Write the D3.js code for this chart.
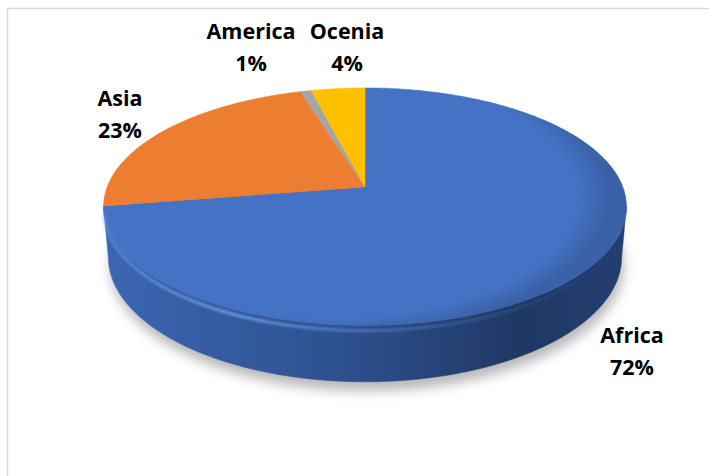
<!DOCTYPE html>
<html>
<head>
<meta charset="utf-8">
<script src="https://cdn.jsdelivr.net/npm/d3@7"></script>
<style>
  html, body { margin: 0; padding: 0; background: #ffffff; }
  svg { display: block; }
</style>
</head>
<body>
<svg id="chart" width="709" height="476"></svg>
<script>
// ---- data ----
const categories = ["Africa", "Asia", "America", "Ocenia"];
const values = [72.45, 22.85, 0.8, 3.9];
const topColors = ["#4472C4", "#ED7D31", "#A5A5A5", "#FFC000"];
const sideDark = ["#1F3864", "#843C0C", "#595959", "#7F6000"];
const sideLight = ["#3B66B3", "#C9682A", "#8C8C8C", "#D9A300"];

// ---- label layout (positions only) ----
const labelCenters = [[632, 343], [120, 106], [251, 39], [347, 39]];

// ---- geometry ----
const W = 709, H = 476;
const cx = 365, cy = 187;
const theta = 26.6 * Math.PI / 180;
const cT = Math.cos(theta), sT = Math.sin(theta);
const Dist = 5.41, focal = 1395, thick = 0.22;

function proj(phi, z) {
  const X = Math.sin(phi), Y = Math.cos(phi);
  const depth = Dist + Y * cT - z * sT;
  return [cx + focal * X / depth, cy - focal * (Y * sT + z * cT) / depth];
}
function projCenter(z) {
  const depth = Dist - z * sT;
  return [cx, cy - focal * (z * cT) / depth];
}

const svg = d3.select("#chart");
const defs = svg.append("defs");

// border of chart area
svg.append("rect")
  .attr("x", 7.5).attr("y", 8.5)
  .attr("width", W + 10).attr("height", H + 10)
  .attr("fill", "none").attr("stroke", "#d9d9d9").attr("stroke-width", 1.5);

const pie = d3.pie().sort(null).value(d => d)(values);

function arcPoints(a0, a1, z) {
  const n = Math.max(2, Math.ceil(Math.abs(a1 - a0) / 0.01));
  const pts = [];
  for (let i = 0; i <= n; i++) pts.push(proj(a0 + (a1 - a0) * i / n, z));
  return pts;
}
const line = d3.line();

// silhouette angles (perspective)
const silR = Math.acos(-cT / Dist);
const silL = 2 * Math.PI - silR;

// shadow
const blur = defs.append("filter").attr("id", "shadowBlur")
  .attr("x", "-20%").attr("y", "-20%").attr("width", "140%").attr("height", "140%");
blur.append("feGaussianBlur").attr("stdDeviation", 6);
const shadowPts = arcPoints(0, 2 * Math.PI, -thick).map(p => [p[0] + 2, p[1] + 9]);
svg.append("path")
  .attr("d", line(shadowPts) + "Z")
  .attr("fill", "#8a8a8a").attr("opacity", 0.6)
  .attr("filter", "url(#shadowBlur)");

// side gradients per slice
const leftX = proj(silL, 0)[0], rightX = proj(silR, 0)[0];
pie.forEach((d, i) => {
  const g = defs.append("linearGradient").attr("id", "side" + i)
    .attr("gradientUnits", "userSpaceOnUse")
    .attr("x1", leftX).attr("y1", 0).attr("x2", rightX).attr("y2", 0);
  g.append("stop").attr("offset", "0%").attr("stop-color", sideLight[i]);
  g.append("stop").attr("offset", "45%").attr("stop-color", d3.interpolateRgb(sideLight[i], sideDark[i])(0.45));
  g.append("stop").attr("offset", "80%").attr("stop-color", sideDark[i]);
  g.append("stop").attr("offset", "100%").attr("stop-color", d3.interpolateRgb(sideDark[i], sideLight[i])(0.15));
});

// outer walls (visible front part only)
pie.forEach((d, i) => {
  const a0 = Math.max(d.startAngle, silR), a1 = Math.min(d.endAngle, silL);
  if (a1 <= a0) return;
  const topPts = arcPoints(a0, a1, 0);
  const botPts = arcPoints(a0, a1, -thick).reverse();
  svg.append("path")
    .attr("d", line(topPts.concat(botPts)) + "Z")
    .attr("fill", "url(#side" + i + ")")
    .attr("stroke", "url(#side" + i + ")").attr("stroke-width", 0.5);
});

// top faces
pie.forEach((d, i) => {
  const pts = [projCenter(0)].concat(arcPoints(d.startAngle, d.endAngle, 0));
  svg.append("path")
    .attr("d", line(pts) + "Z")
    .attr("fill", topColors[i])
    .attr("stroke", topColors[i]).attr("stroke-width", 0.5);
});

// top face shading near right rim
const rim = defs.append("radialGradient").attr("id", "rimShade")
  .attr("gradientUnits", "userSpaceOnUse")
  .attr("cx", cx - 30).attr("cy", cy + 10).attr("r", 275)
  .attr("gradientTransform", `translate(${cx - 30},${cy + 10}) scale(1,0.5) translate(${-(cx - 30)},${-(cy + 10)})`);
rim.append("stop").attr("offset", "88%").attr("stop-color", "#000").attr("stop-opacity", 0);
rim.append("stop").attr("offset", "100%").attr("stop-color", "#000").attr("stop-opacity", 0.15);
svg.append("path")
  .attr("d", line(arcPoints(0, pie[0].endAngle, 0).concat([projCenter(0)])) + "Z")
  .attr("fill", "url(#rimShade)");

// bevel highlight along front rim
const hl = defs.append("linearGradient").attr("id", "hl")
  .attr("gradientUnits", "userSpaceOnUse")
  .attr("x1", leftX).attr("y1", 0).attr("x2", rightX).attr("y2", 0);
hl.append("stop").attr("offset", "0%").attr("stop-color", "#6E9BEA").attr("stop-opacity", 0.5);
hl.append("stop").attr("offset", "25%").attr("stop-color", "#6E9BEA").attr("stop-opacity", 0.9);
hl.append("stop").attr("offset", "60%").attr("stop-color", "#5A86D6").attr("stop-opacity", 0.4);
hl.append("stop").attr("offset", "100%").attr("stop-color", "#4472C4").attr("stop-opacity", 0);
const hlBlur = defs.append("filter").attr("id", "hlBlur")
  .attr("x", "-10%").attr("y", "-50%").attr("width", "120%").attr("height", "200%");
hlBlur.append("feGaussianBlur").attr("stdDeviation", 1.2);
svg.append("path")
  .attr("d", line(arcPoints(Math.PI * 0.6, pie[0].endAngle - 0.03, -0.02)))
  .attr("fill", "none").attr("stroke", "url(#hl)").attr("stroke-width", 3)
  .attr("filter", "url(#hlBlur)");

// labels
const fmt = v => Math.round(v) + "%";
pie.forEach((d, i) => {
  const [x, y] = labelCenters[i];
  const t = svg.append("text")
    .attr("x", x).attr("y", y)
    .attr("text-anchor", "middle")
    .attr("font-family", "'Open Sans', Lato, sans-serif")
    .attr("font-weight", "bold")
    .attr("font-size", 21.5)
    .attr("fill", "#000");
  t.append("tspan").attr("x", x).attr("dy", 0).text(categories[i]);
  t.append("tspan").attr("x", x).attr("dy", 32).text(fmt(values[i]));
});
</script>
</body>
</html>
